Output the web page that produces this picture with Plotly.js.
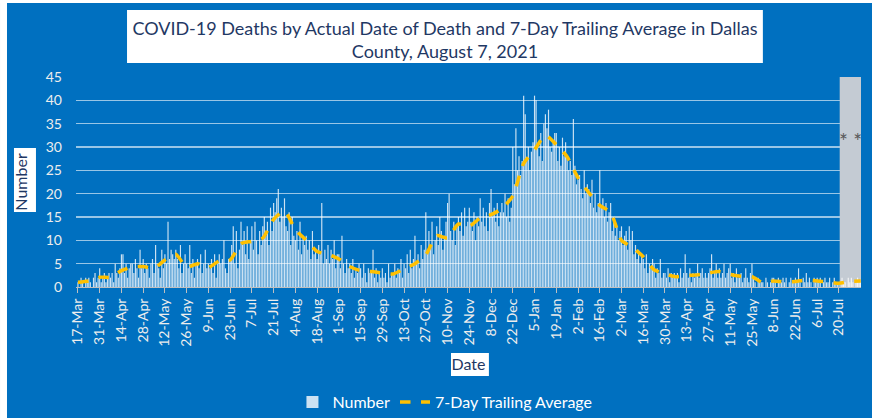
<!DOCTYPE html>
<html>
<head>
<meta charset="utf-8">
<script src="https://cdn.plot.ly/plotly-3.0.1.min.js"></script>
<style>html,body{margin:0;padding:0;background:#fff;}#chart{width:872px;height:418px;}</style>
</head>
<body>
<div id="chart"></div>
<script>
// Daily deaths, starting 17-Mar-2020 (one value per day)
const startDate = '2020-03-17';
const deaths = [
  1,0,2,1,0,2,1,  2,1,0,2,3,1,2,  4,1,2,3,1,2,3,  2,3,1,5,3,2,4,
  7,7,3,5,2,4,5,  5,3,6,4,2,8,4,  6,3,5,4,2,5,6,  3,9,5,4,2,8,4,
  7,5,14,6,8,7,6, 8,6,4,9,3,5,7,  5,4,9,3,6,2,5,  6,4,7,3,5,8,4,
  5,4,6,3,7,2,5,  7,5,6,10,4,3,6, 6,9,13,5,12,4,8, 14,9,12,7,13,6,10,
  13,8,14,10,7,12,9, 13,15,11,14,9,17,12, 18,16,19,21,14,17,15, 19,13,12,16,9,15,11,
  10,12,8,14,7,11,9, 11,8,10,6,12,7,8, 6,9,7,18,5,8,6, 9,5,8,6,10,4,7,
  7,4,11,5,3,6,4, 5,3,6,2,4,3,5, 4,2,5,3,1,4,3, 3,8,2,4,1,3,2,
  4,2,3,1,5,2,3, 3,5,2,4,3,6,2, 5,4,7,3,8,4,6, 11,5,7,4,9,6,8,
  16,8,12,9,14,7,10, 13,9,15,12,8,11,14, 18,20,12,10,14,9,13, 15,12,16,11,17,13,14,
  17,14,12,16,10,15,13, 19,14,17,13,16,12,18, 21,15,17,14,18,13,16, 18,16,20,15,19,14,17,
  30,22,34,25,28,24,27, 41,37,27,30,25,29,31, 41,40,30,28,33,27,35, 37,34,38,30,29,31,33,
  33,27,30,26,32,28,31, 28,25,27,24,36,26,22, 23,24,21,19,25,20,22, 21,18,23,17,20,16,18,
  25,17,19,15,18,14,16, 18,12,15,11,13,10,12, 13,9,11,12,8,13,10, 12,7,9,6,8,5,7,
  6,4,7,3,5,4,6, 5,2,4,3,6,2,3, 3,2,4,1,3,2,3, 2,3,1,4,2,3,7,
  3,2,4,1,3,2,3, 5,2,3,4,2,3,2, 3,4,7,2,3,5,2, 4,2,3,5,2,3,4,
  5,2,3,1,4,2,2, 3,1,2,4,2,1,3, 5,2,1,0,2,1,1, 1,0,2,1,0,1,2,
  2,1,0,2,1,1,2, 1,2,0,1,2,1,1, 2,1,4,1,0,2,1, 3,1,2,1,0,2,1,
  2,1,2,0,1,2,1, 1,2,0,1,2,1,1, 1,0,2,1,1,0,2, 1,2,1,0,1,2,1,
  1
];
// 7-day trailing average, read weekly (every 7th day from 17-Mar-2020)
const avgStep = 7;
const trailingAvg = [
  1.0,1.3,2.1,2.1,3.5,4.3,4.4,4.0,5.8,7.0,4.2,5.0,4.2,5.6,5.8,9.3,9.8,10.5,14.5,16.3,
  12.3,10.0,7.6,7.0,6.0,4.4,3.5,3.3,3.0,2.8,3.9,5.0,6.9,11.0,10.5,13.5,13.0,14.8,15.5,16.8,
  19.5,26.5,29.4,32.5,30.5,27.9,23.4,20.2,17.5,16.0,10.0,8.5,6.5,3.7,2.8,2.2,2.5,2.6,3.0,3.3,
  2.7,2.3,2.2,0.9,1.3,1.1,1.2,1.5,1.3,1.1,0.8,1.2,1.3
];
const xTick0 = '2020-03-17';
const xTickLast = '2021-07-20';
const xTickStepDays = 14;
const titleText = 'COVID-19 Deaths by Actual Date of Death and 7-Day Trailing Average in Dallas<br>County, August 7, 2021';

const DAY = 86400000;
const t0 = Date.parse(startDate + 'T00:00:00Z');
function iso(ms){ return new Date(ms).toISOString().slice(0,10); }
const dates = deaths.map((_, i) => iso(t0 + i*DAY));
const avgDates = trailingAvg.map((_, i) => iso(t0 + i*avgStep*DAY));
const tickVals = [];
for (let ms = Date.parse(xTick0 + 'T00:00:00Z'); ms <= Date.parse(xTickLast + 'T00:00:00Z'); ms += xTickStepDays*DAY) tickVals.push(iso(ms));

const FONT = 'Lato, "Open Sans", sans-serif';
const navy = '#1F3864';

const traces = [
  {
    type: 'bar', name: 'Number', x: dates, y: deaths,
    marker: {color: 'rgba(255,255,255,0.8)', line: {width: 0}},
    hoverinfo: 'x+y'
  },
  {
    type: 'scatter', mode: 'lines', name: '7-Day Trailing Average', x: avgDates, y: trailingAvg,
    line: {color: '#FFC000', width: 3.5, dash: 'dash', shape: 'spline', smoothing: 0.6}
  }
];

const layout = {
  width: 872, height: 418,
  margin: {l: 76, r: 11, t: 77, b: 131, autoexpand: false},
  paper_bgcolor: '#0070C0', plot_bgcolor: '#0070C0',
  font: {family: FONT, color: '#F2F2F2', size: 14},
  bargap: 0.25,
  showlegend: true,
  title: {
    text: titleText, font: {family: FONT, size: 18, color: navy},
    xref: 'paper', x: 0.47, xanchor: 'center',
    yref: 'container', y: 0.917, yanchor: 'middle'
  },
  xaxis: {
    type: 'date', automargin: false,
    range: ['2020-03-15 18:00', '2021-08-03 05:00'],
    tickmode: 'array', tickvals: tickVals,
    tickformat: '%-d-%b', tickangle: -90,
    tickfont: {family: FONT, size: 14, color: '#EDEDED'},
    ticks: 'outside', ticklen: 5, tickcolor: '#BFBFBF', tickwidth: 1,
    showline: true, linecolor: '#BFBFBF', linewidth: 1,
    showgrid: false, zeroline: false,
    title: {text: 'Date', font: {family: FONT, size: 16, color: navy}, standoff: 12}
  },
  yaxis: {
    range: [0, 45], dtick: 5, automargin: false,
    tickfont: {family: FONT, size: 14, color: '#EDEDED'},
    ticklabelstandoff: 13,
    showgrid: true, gridcolor: 'rgba(255,255,255,0.6)', gridwidth: 1.2,
    zeroline: false, showline: false,
    title: {text: 'Number', font: {family: FONT, size: 16, color: navy}, standoff: 14}
  },
  legend: {
    orientation: 'h', x: 0.47, xanchor: 'center', y: -0.548, yanchor: 'middle',
    font: {family: FONT, size: 16, color: '#FFFFFF'}, bgcolor: 'rgba(0,0,0,0)',
    traceorder: 'normal'
  },
  shapes: [
    {type: 'rect', xref: 'paper', yref: 'paper', x0: 0.065, x1: 0.875, y0: 1.0667, y1: 1.319,
     fillcolor: '#FFFFFF', line: {width: 0}, layer: 'below'},
    {type: 'rect', xref: 'paper', yref: 'paper', x0: -0.079, x1: -0.051, y0: 0.357, y1: 0.662,
     fillcolor: '#FFFFFF', line: {width: 0}, layer: 'below'},
    {type: 'rect', xref: 'paper', yref: 'paper', x0: 0.4777, x1: 0.526, y0: -0.424, y1: -0.314,
     fillcolor: '#FFFFFF', line: {width: 0}, layer: 'below'},
    {type: 'rect', xref: 'paper', yref: 'paper', x0: -0.0968, x1: -0.0879, y0: -0.63, y1: 1.37,
     fillcolor: '#FFFFFF', line: {width: 0}, layer: 'below'},
    {type: 'rect', xref: 'paper', yref: 'paper', x0: -0.0968, x1: 1.02, y0: 1.352, y1: 1.37,
     fillcolor: '#FFFFFF', line: {width: 0}, layer: 'below'},
    {type: 'rect', xref: 'x', yref: 'y', x0: '2021-07-20 12:00', x1: '2021-08-03 05:00', y0: 0, y1: 45,
     fillcolor: '#C4CBD3', line: {width: 0}, layer: 'between'}
  ],
  annotations: [
    {xref: 'x', yref: 'y', x: '2021-07-27 04:00', y: 31.5, text: '* *', showarrow: false,
     font: {family: FONT, size: 21, color: '#595959'}}
  ]
};

Plotly.newPlot('chart', traces, layout, {displayModeBar: false, staticPlot: true});
</script>
</body>
</html>
